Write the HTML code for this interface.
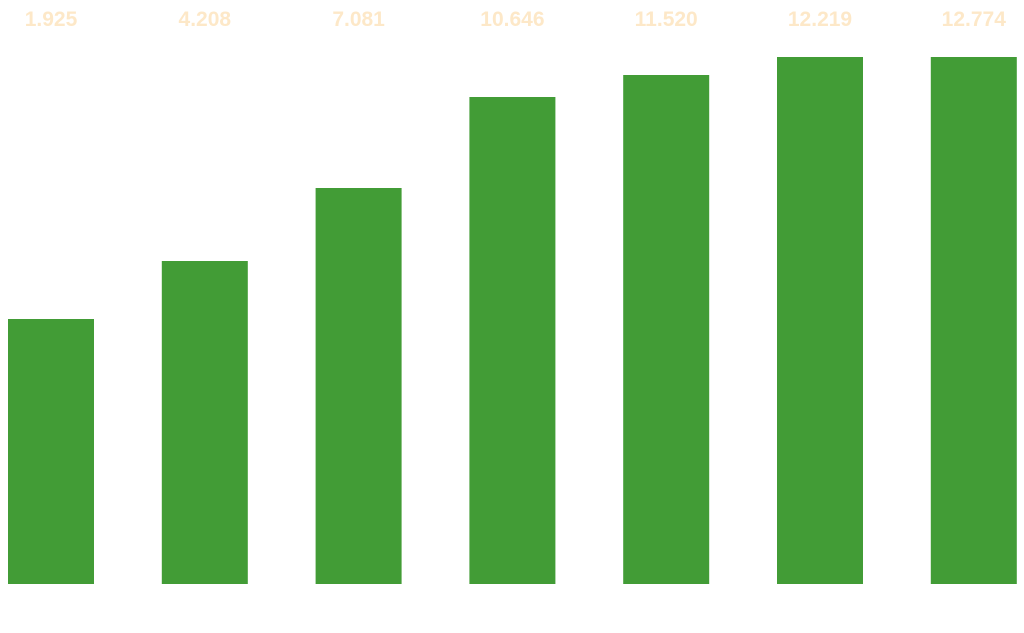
<!DOCTYPE html>
<html><head><meta charset="utf-8"><style>
html,body{margin:0;padding:0;background:#fff;}
svg{display:block;}
</style></head><body>
<svg id="chart" width="1024" height="633" xmlns="http://www.w3.org/2000/svg"></svg>
<script>
const categories = ["c1","c2","c3","c4","c5","c6","c7"];
const labelValues = ["1.925","4.208","7.081","10.646","11.520","12.219","12.774"];
const barValues = [265, 323, 396, 487, 509, 527, 527];

const svg = document.getElementById('chart');
const NS = 'http://www.w3.org/2000/svg';
const baseY = 584, maxPx = 527, maxVal = 527;
const y = v => baseY - v / maxVal * maxPx;
const x0 = 8, step = 153.8, bw = 86;
const x = i => x0 + i * step;

categories.forEach((c, i) => {
  const r = document.createElementNS(NS, 'rect');
  
  
  r.setAttribute('x', x(i));
  r.setAttribute('y', y(barValues[i]));
  r.setAttribute('width', bw);
  r.setAttribute('height', baseY - y(barValues[i]));
  r.setAttribute('fill', '#429c36');
  svg.appendChild(r);

  const t = document.createElementNS(NS, 'text');
  
  
  t.setAttribute('x', x(i) + bw / 2);
  t.setAttribute('y', 26);
  t.setAttribute('text-anchor', 'middle');
  t.setAttribute('font-family', 'Liberation Sans, sans-serif');
  t.setAttribute('font-weight', 'bold');
  t.setAttribute('font-size', '21');
  t.setAttribute('fill', '#fde8c8');
  t.textContent = labelValues[i];
  svg.appendChild(t);
});
</script>
</body></html>
